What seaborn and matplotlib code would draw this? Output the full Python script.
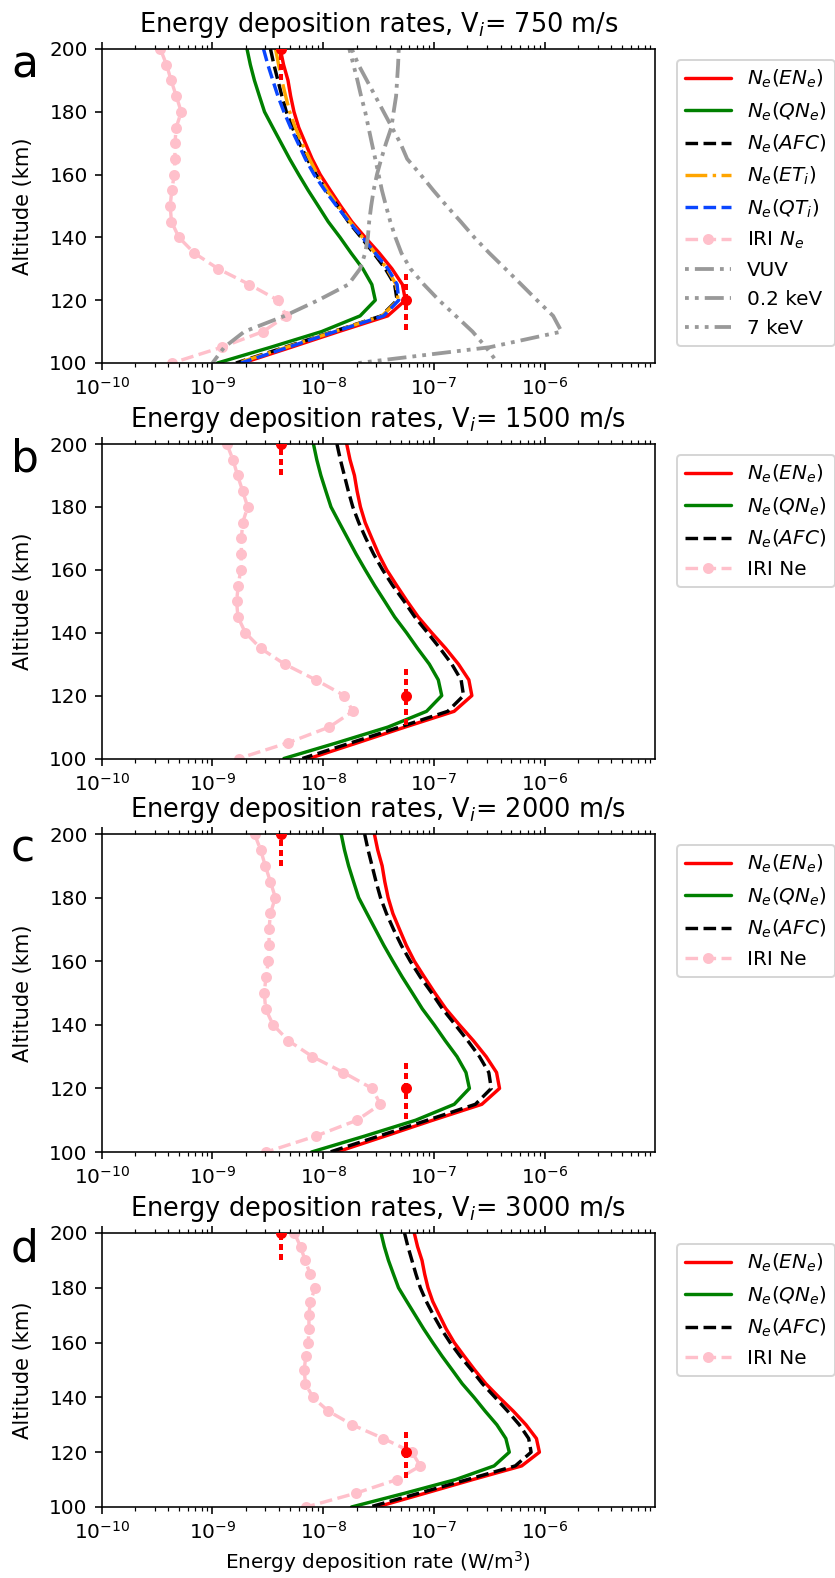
import numpy as np
import matplotlib
matplotlib.use("Agg")
import matplotlib.pyplot as plt
import seaborn as sns

# ---------------- data (log10 of energy deposition rate, W/m^3) ----------------
altitude_km = [200, 195, 190, 185, 180, 175, 170, 165, 160, 155, 150,
               145, 140, 135, 130, 125, 120, 115, 110, 105, 100]

velocities = [750, 1500, 2000, 3000]
panel_letters = ["a", "b", "c", "d"]

# N_e(EN_e)  (red)
ene_750 = [-8.388, -8.358, -8.318, -8.294, -8.264, -8.221, -8.161, -8.100, -8.027, -7.936, -7.842,
           -7.742, -7.621, -7.494, -7.379, -7.285, -7.258, -7.418, -7.861, -8.291, -8.727]
ene_1500 = [-7.788, -7.758, -7.718, -7.694, -7.664, -7.621, -7.561, -7.500, -7.427, -7.336, -7.242,
            -7.142, -7.021, -6.894, -6.779, -6.685, -6.658, -6.818, -7.261, -7.691, -8.127]
ene_2000 = [-7.538, -7.508, -7.468, -7.444, -7.414, -7.371, -7.311, -7.250, -7.177, -7.086, -6.992,
            -6.892, -6.771, -6.644, -6.529, -6.435, -6.408, -6.568, -7.011, -7.441, -7.877]
ene_3000 = [-7.178, -7.148, -7.108, -7.084, -7.054, -7.011, -6.951, -6.890, -6.817, -6.726, -6.632,
            -6.532, -6.411, -6.284, -6.169, -6.075, -6.048, -6.208, -6.651, -7.081, -7.517]

# N_e(QN_e)  (green)
qne_750 = [-8.688, -8.658, -8.621, -8.576, -8.530, -8.455, -8.379, -8.303, -8.221, -8.136, -8.045,
           -7.955, -7.848, -7.748, -7.642, -7.561, -7.530, -7.667, -8.015, -8.476, -8.955]
qne_1500 = [-8.088, -8.058, -8.021, -7.976, -7.930, -7.855, -7.779, -7.703, -7.621, -7.536, -7.445,
            -7.355, -7.248, -7.148, -7.042, -6.961, -6.930, -7.067, -7.415, -7.876, -8.355]
qne_2000 = [-7.838, -7.808, -7.771, -7.726, -7.680, -7.605, -7.529, -7.453, -7.371, -7.286, -7.195,
            -7.105, -6.998, -6.898, -6.792, -6.711, -6.680, -6.817, -7.165, -7.626, -8.105]
qne_3000 = [-7.478, -7.448, -7.411, -7.366, -7.320, -7.245, -7.169, -7.093, -7.011, -6.926, -6.835,
            -6.745, -6.638, -6.538, -6.432, -6.351, -6.320, -6.457, -6.805, -7.266, -7.745]

# N_e(AFC)  (black dashed)
afc_750 = [-8.476, -8.445, -8.409, -8.373, -8.333, -8.279, -8.215, -8.145, -8.064, -7.973, -7.870,
           -7.773, -7.658, -7.545, -7.439, -7.355, -7.333, -7.476, -7.909, -8.348, -8.788]
afc_1500 = [-7.876, -7.845, -7.809, -7.773, -7.733, -7.679, -7.615, -7.545, -7.464, -7.373, -7.270,
            -7.173, -7.058, -6.945, -6.839, -6.755, -6.733, -6.876, -7.309, -7.748, -8.188]
afc_2000 = [-7.626, -7.595, -7.559, -7.523, -7.483, -7.429, -7.365, -7.295, -7.214, -7.123, -7.020,
            -6.923, -6.808, -6.695, -6.589, -6.505, -6.483, -6.626, -7.059, -7.498, -7.938]
afc_3000 = [-7.266, -7.235, -7.199, -7.163, -7.123, -7.069, -7.005, -6.935, -6.854, -6.763, -6.660,
            -6.563, -6.448, -6.335, -6.229, -6.145, -6.123, -6.266, -6.699, -7.138, -7.578]

# IRI Ne (pink, markers)
iri_750 = [-9.470, -9.415, -9.373, -9.327, -9.282, -9.327, -9.339, -9.339, -9.345, -9.367, -9.382,
           -9.370, -9.303, -9.164, -8.948, -8.667, -8.409, -8.333, -8.545, -8.918, -9.364]
iri_1500 = [-8.870, -8.815, -8.773, -8.727, -8.682, -8.727, -8.739, -8.739, -8.745, -8.767, -8.782,
            -8.770, -8.703, -8.564, -8.348, -8.067, -7.809, -7.733, -7.945, -8.318, -8.764]
iri_2000 = [-8.620, -8.565, -8.523, -8.477, -8.432, -8.477, -8.489, -8.489, -8.495, -8.517, -8.532,
            -8.520, -8.453, -8.314, -8.098, -7.817, -7.559, -7.483, -7.695, -8.068, -8.514]
iri_3000 = [-8.260, -8.205, -8.163, -8.117, -8.072, -8.117, -8.129, -8.129, -8.135, -8.157, -8.172,
            -8.160, -8.093, -7.954, -7.738, -7.457, -7.199, -7.123, -7.335, -7.708, -8.154]

# only in panel a
eti_750 = [-8.430, -8.403, -8.373, -8.339, -8.303, -8.252, -8.191, -8.124, -8.052, -7.964, -7.864,
           -7.758, -7.645, -7.530, -7.424, -7.342, -7.324, -7.470, -7.900, -8.333, -8.773]
qti_750 = [-8.539, -8.500, -8.455, -8.409, -8.355, -8.294, -8.227, -8.161, -8.082, -7.985, -7.879,
           -7.767, -7.645, -7.530, -7.415, -7.333, -7.318, -7.455, -7.894, -8.318, -8.742]
vuv = [-7.318, -7.324, -7.333, -7.342, -7.364, -7.385, -7.433, -7.476, -7.515, -7.545, -7.567,
       -7.585, -7.597, -7.621, -7.667, -7.773, -8.045, -8.348, -8.712, -8.894, -9.000]
kev_02 = [-7.742, -7.682, -7.606, -7.530, -7.455, -7.379, -7.303, -7.242, -7.121, -7.006, -6.885,
          -6.758, -6.636, -6.500, -6.355, -6.212, -6.070, -5.924, -5.848, -6.500, -7.682]
kev_7 = [-7.764, -7.727, -7.691, -7.658, -7.621, -7.591, -7.561, -7.530, -7.500, -7.470, -7.433,
         -7.394, -7.348, -7.294, -7.212, -7.091, -6.955, -6.803, -6.652, -6.530, -6.424]

# red reference points with altitude ranges
mark_rate = [5.55e-8, 4.12e-9]
mark_alt = [120, 200]
mark_err_low = [9.5, 10.0]
mark_err_high = [9.0, 10.0]

ene = [ene_750, ene_1500, ene_2000, ene_3000]
qne = [qne_750, qne_1500, qne_2000, qne_3000]
afc = [afc_750, afc_1500, afc_2000, afc_3000]
iri = [iri_750, iri_1500, iri_2000, iri_3000]

# ---------------- style ----------------
sns.set_style("ticks", rc={"axes.edgecolor": "black", "xtick.color": "black",
                           "ytick.color": "black", "text.color": "black",
                           "axes.labelcolor": "black"})
plt.rcParams["font.family"] = ["DejaVu Sans"]
plt.rcParams["font.size"] = 10
plt.rcParams["mathtext.fontset"] = "dejavusans"

DPI = 144
fig = plt.figure(figsize=(835 / DPI, 1578 / DPI), dpi=DPI)

W, H = 835.0, 1578.0
left_px, right_px = 101.7, 655.0
# (top, bottom) of each panel in pixels
panel_px = [(49, 363), (444, 758.5), (834, 1152), (1233, 1507)]

grey = (0.6, 0.6, 0.6)
alt = np.array(altitude_km, dtype=float)


def draw(ax, logvals, **kw):
    sns.lineplot(x=10 ** np.array(logvals), y=alt, sort=False, estimator=None,
                 ax=ax, **kw)


LW = 1.7
for i, v in enumerate(velocities):
    top, bot = panel_px[i]
    ax = fig.add_axes([left_px / W, 1 - bot / H, (right_px - left_px) / W, (bot - top) / H])

    draw(ax, ene[i], color="red", lw=LW, label="$N_e(EN_e)$")
    draw(ax, qne[i], color="green", lw=LW, label="$N_e(QN_e)$")
    draw(ax, afc[i], color="black", lw=LW, linestyle="--", label="$N_e(AFC)$")
    if i == 0:
        draw(ax, eti_750, color="orange", lw=LW, linestyle="-.", label="$N_e(ET_i)$")
        draw(ax, qti_750, color="#0a46ff", lw=LW, linestyle="--", label="$N_e(QT_i)$")
        iri_label = "IRI $N_e$"
    else:
        iri_label = "IRI Ne"
    draw(ax, iri[i], color="pink", lw=LW, linestyle="--", marker="o", markersize=5.5,
         markeredgewidth=0, markeredgecolor="pink", label=iri_label)
    if i == 0:
        draw(ax, vuv, color=grey, lw=1.9, linestyle=(0, (1, 1.6, 5, 1.6)), label="VUV")
        draw(ax, kev_02, color=grey, lw=1.9,
             linestyle=(0, (1, 1.6, 1, 1.6, 5, 1.6)), label="0.2 keV")
        draw(ax, kev_7, color=grey, lw=1.9,
             linestyle=(0, (1, 1.6, 1, 1.6, 1, 1.6, 5, 1.6)), label="7 keV")

    eb = ax.errorbar(mark_rate, mark_alt, yerr=[mark_err_low, mark_err_high], fmt="o",
                     color="red", ms=4.5, elinewidth=2, capsize=0, zorder=6)
    eb[2][0].set_linestyle((0, (1.5, 1.0)))

    ax.set_xscale("log")
    ax.set_xlim(1e-10, 9.9e-6)
    ax.set_ylim(100, 200)
    ax.set_yticks([100, 120, 140, 160, 180, 200])
    ax.tick_params(axis="x", which="both", top=True)
    ax.set_ylabel("Altitude (km)", labelpad=8, fontsize=10.5)
    if i == 3:
        ax.set_xlabel("Energy deposition rate (W/m$^3$)", labelpad=3, fontsize=10)
    else:
        ax.set_xlabel("")
    ax.set_title(f"Energy deposition rates, V$_i$= {v} m/s", fontsize=12.8, pad=8.5)

    axw = right_px - left_px
    axh = bot - top
    ax.legend(loc="upper left", bbox_to_anchor=(1 + 21.7 / axw, 1 - 11 / axh),
              borderaxespad=0, fontsize=10, handlelength=2.3)
    fig.text(11 / W, 1 - (top + 28) / H, panel_letters[i], fontsize=22,
             ha="left", va="baseline")

fig.savefig("out.png", dpi=DPI)
